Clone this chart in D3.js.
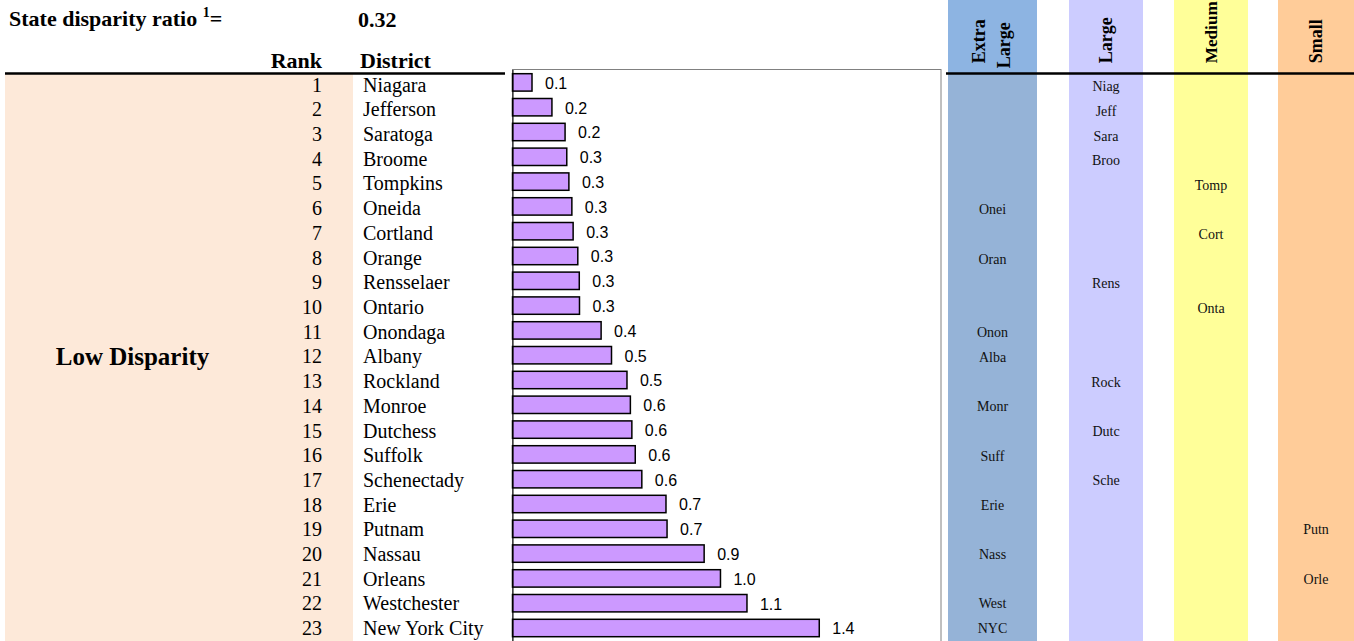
<!DOCTYPE html>
<html>
<head>
<meta charset="utf-8">
<script src="https://cdn.jsdelivr.net/npm/d3@7"></script>
<style>
  html, body { margin: 0; padding: 0; background: #fff; }
  svg { display: block; }
</style>
</head>
<body>
<svg id="chart" width="1354" height="641"></svg>
<script>
// ---------------- data ----------------
const titleText = "State disparity ratio";
const titleSup = "1";
const stateRatio = 0.32;
const groupLabel = "Low Disparity";
const colHeaders = ["Rank", "District"];

const ranks = [1,2,3,4,5,6,7,8,9,10,11,12,13,14,15,16,17,18,19,20,21,22,23];
const districts = ["Niagara","Jefferson","Saratoga","Broome","Tompkins","Oneida","Cortland","Orange",
  "Rensselaer","Ontario","Onondaga","Albany","Rockland","Monroe","Dutchess","Suffolk","Schenectady",
  "Erie","Putnam","Nassau","Orleans","Westchester","New York City"];
const values = [0.092,0.186,0.248,0.256,0.266,0.280,0.286,0.308,0.315,0.316,0.418,0.467,0.540,0.556,
  0.563,0.579,0.610,0.724,0.729,0.904,0.981,1.106,1.447];
const abbrevs = ["Niag","Jeff","Sara","Broo","Tomp","Onei","Cort","Oran","Rens","Onta","Onon","Alba",
  "Rock","Monr","Dutc","Suff","Sche","Erie","Putn","Nass","Orle","West","NYC"];
const sizes = ["Large","Large","Large","Large","Medium","Extra Large","Medium","Extra Large","Large","Medium",
  "Extra Large","Extra Large","Large","Extra Large","Large","Extra Large","Large","Extra Large","Small",
  "Extra Large","Small","Extra Large","Extra Large"];
const sizeCategories = ["Extra Large","Large","Medium","Small"];
const sizeHeaderLines = [["Extra","Large"],["Large"],["Medium"],["Small"]];

// ---------------- styles ----------------
const sizeFill = {"Extra Large":"#95B3D7","Large":"#CCCCFF","Medium":"#FFFF99","Small":"#FFCC99"};
const sizeHeadFill = {"Extra Large":"#8DB4E2","Large":"#CCCCFF","Medium":"#FFFF99","Small":"#FFCC99"};
const serif = "'Liberation Serif','Times New Roman',serif";
const sans = "'Liberation Sans',Arial,sans-serif";

const svg = d3.select("#chart");
const W = 1354, H = 641;
const lineY = 73.5;

// row scales
const yRow = d3.scalePoint().domain(districts).range([82.4, 628]);      // bar centres
const yText = d3.scalePoint().domain(districts).range([91.6, 635.2]);   // row text baselines
const yAbbr = d3.scalePoint().domain(districts).range([86.4, 628]);     // abbreviation centres
const x = d3.scaleLinear().domain([0, 2]).range([512.5, 936.5]);
const barH = 17.4;

// size columns
const colX = d3.scaleOrdinal().domain(sizeCategories).range([[948,1037],[1069,1143],[1174,1248],[1278,1354]]);

// peach group background
svg.append("rect").attr("x",5).attr("y",lineY).attr("width",348).attr("height",H-lineY).attr("fill","#FDE9D9");

// size column backgrounds
sizeCategories.forEach(c => {
  const [a,b] = colX(c);
  svg.append("rect").attr("x",a).attr("y",0).attr("width",b-a).attr("height",lineY).attr("fill",sizeHeadFill[c]);
  svg.append("rect").attr("x",a).attr("y",lineY).attr("width",b-a).attr("height",H-lineY).attr("fill",sizeFill[c]);
});

// header line
svg.append("line").attr("x1",5).attr("x2",W).attr("y1",lineY).attr("y2",lineY)
  .attr("stroke","#000").attr("stroke-width",2.5);

// title
const t = svg.append("text").attr("x",9).attr("y",26).attr("font-family",serif)
  .attr("font-weight","bold").attr("font-size",22);
t.append("tspan").text(titleText + " ");
t.append("tspan").attr("font-size",14).attr("dy",-9).text(titleSup);
t.append("tspan").attr("dy",9).text("=");
svg.append("text").attr("x",358).attr("y",26.5).attr("font-family",serif).attr("font-weight","bold")
  .attr("font-size",22).text(d3.format(".2f")(stateRatio));

// column headers
svg.append("text").attr("x",322).attr("y",68).attr("text-anchor","end").attr("font-family",serif)
  .attr("font-weight","bold").attr("font-size",22).text(colHeaders[0]);
svg.append("text").attr("x",360).attr("y",68).attr("font-family",serif)
  .attr("font-weight","bold").attr("font-size",22).text(colHeaders[1]);

// group label
svg.append("text").attr("x",132.5).attr("y",365).attr("text-anchor","middle")
  .attr("font-family",serif).attr("font-weight","bold").attr("font-size",25).text(groupLabel);

// rank & district
svg.append("g").selectAll("text").data(districts).join("text")
  .attr("x",322).attr("y",d=>yText(d)).attr("text-anchor","end")
  .attr("font-family",serif).attr("font-size",20).text((d,i)=>ranks[i]);
svg.append("g").selectAll("text").data(districts).join("text")
  .attr("x",363).attr("y",d=>yText(d))
  .attr("font-family",serif).attr("font-size",20).text(d=>d);

// chart area
svg.append("rect").attr("x",505).attr("y",66).attr("width",441).attr("height",H-66).attr("fill","#fff");
svg.append("rect").attr("x",512.5).attr("y",69.5).attr("width",428.5).attr("height",H).attr("fill","none")
  .attr("stroke","#808080").attr("stroke-width",1);

// bars
svg.append("g").selectAll("rect").data(districts).join("rect")
  .attr("x",x(0)).attr("y",d=>yRow(d)-barH/2)
  .attr("width",(d,i)=>x(values[i])-x(0)).attr("height",barH)
  .attr("fill","#CC99FF").attr("stroke","#000").attr("stroke-width",1.5);
// axis line
svg.append("g").attr("transform",`translate(${x(0)},0)`)
  .call(d3.axisLeft(d3.scaleLinear().range([69.5,H])).ticks(0).tickSize(0).tickFormat(""))
  .call(g=>g.select(".domain").attr("stroke","#000"));
// value labels
svg.append("g").selectAll("text").data(districts).join("text")
  .attr("x",(d,i)=>x(values[i])+13).attr("y",d=>yRow(d)).attr("dy","0.4em")
  .attr("font-family",sans).attr("font-size",16).text((d,i)=>d3.format(".1f")(values[i]));

// size column headers (rotated)
sizeCategories.forEach((c,ci) => {
  const [a,b] = colX(c);
  const cx = (a+b)/2;
  const lines = sizeHeaderLines[ci];
  lines.forEach((ln, li) => {
    const off = (li - (lines.length-1)/2) * 25;
    const yb = lines.length > 1 ? 63.3 + li*5 : 63.3;
    svg.append("text")
      .attr("transform",`translate(${cx+off-(ci===0?1:0)},${yb}) rotate(-90)`)
      .attr("dy","0.35em")
      .attr("font-family",serif).attr("font-weight","bold")
      .attr("font-size", c === "Medium" ? 17.2 : 18).text(ln);
  });
});

// abbreviations
svg.append("g").selectAll("text").data(districts).join("text")
  .attr("x",(d,i)=>{const [a,b]=colX(sizes[i]); return (a+b)/2;})
  .attr("y",d=>yAbbr(d)).attr("dy","0.35em").attr("text-anchor","middle")
  .attr("font-family",serif).attr("font-size",14).attr("fill","#111").text((d,i)=>abbrevs[i]);
</script>
</body>
</html>
